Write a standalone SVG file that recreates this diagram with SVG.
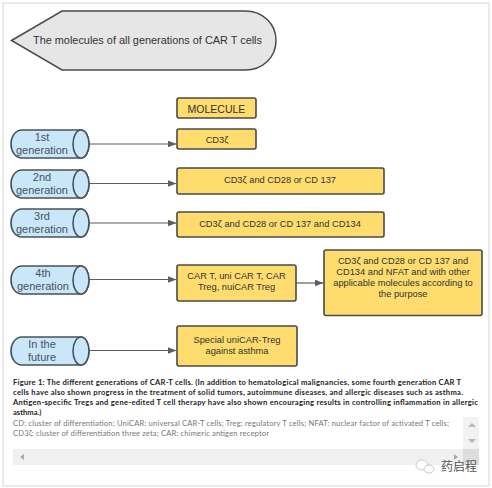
<svg xmlns="http://www.w3.org/2000/svg" width="492" height="488" viewBox="0 0 492 488">
<style>
text{font-family:"Liberation Sans",Arial,sans-serif;fill:#333}
.y{fill:#ffdc6e;stroke:#4a4a48;stroke-width:1.6}
.c{fill:#c9e7f9;stroke:#47525c;stroke-width:1.6}
.t{font-size:9.300px;text-anchor:middle}
.g{font-size:11px;text-anchor:middle;fill:#47525c}
.l{stroke:#5e5e5e;stroke-width:1.2;fill:none;marker-end:url(#a)}
.b{font-family:Lato,"Liberation Sans",sans-serif;font-size:7.600px;font-weight:700;fill:#222}
.n{font-family:Lato,"Liberation Sans",sans-serif;font-size:7.600px;fill:#777}
</style>
<defs>
<marker id="a" markerUnits="userSpaceOnUse" markerWidth="9" markerHeight="7" refX="8.500" refY="3.500" orient="auto"><path d="M0 0L9 3.500L0 7Z" fill="#5e5e5e"/></marker>
<symbol id="cyl" viewBox="0 0 80 30" width="80" height="30"><path class="c" d="M12 1H71C75 1 79 7 79 15S75 29 71 29H12C5 29 1 22 1 15S5 1 12 1Z"/><ellipse class="c" cx="71" cy="15" rx="8" ry="14"/></symbol>
</defs>
<rect width="492" height="488" fill="#fff"/>
<rect x="3" y="3" width="486" height="483" fill="#fff" stroke="#e4e4e4" stroke-width="1.500"/>
<g id="connectors">
<path class="l" d="M89 144H176"/>
<path class="l" d="M89 183.500H176"/>
<path class="l" d="M89 223H176"/>
<path class="l" d="M89 279.500H176"/>
<path class="l" d="M89 350.500H176"/>
<path class="l" d="M296 283H323"/>
</g>
<g id="title"><path d="M11.500 40.500L62 11H245C263 11 276 24 276 40.500S263 70 245 70H62Z" fill="#e6e6e6" stroke="#4a4a4a" stroke-width="1.500"/><text x="147.500" y="43.500" font-size="11" text-anchor="middle" textLength="229" lengthAdjust="spacingAndGlyphs">The molecules of all generations of CAR T cells</text></g>
<g id="molecule"><rect class="y" x="177" y="98" width="79" height="20" rx="2"/><text x="216.500" y="112.500" font-size="10.500" text-anchor="middle">MOLECULE</text></g>
<g id="gen1"><use href="#cyl" x="10" y="129"/><text class="g" x="42" y="141">1st</text><text class="g" x="42" y="154">generation</text></g>
<g id="gen2"><use href="#cyl" x="10" y="169"/><text class="g" x="42" y="181">2nd</text><text class="g" x="42" y="194">generation</text></g>
<g id="gen3"><use href="#cyl" x="10" y="208"/><text class="g" x="42" y="220">3rd</text><text class="g" x="42" y="233">generation</text></g>
<g id="gen4"><use href="#cyl" x="10" y="265"/><text class="g" x="43" y="277">4th</text><text class="g" x="43" y="290">generation</text></g>
<g id="future"><use href="#cyl" x="10" y="336"/><text class="g" x="42" y="348">In the</text><text class="g" x="42" y="361">future</text></g>
<g id="m1"><rect class="y" x="177" y="129" width="79" height="20" rx="2"/><text class="t" x="217" y="143">CD3ζ</text></g>
<g id="m2"><rect class="y" x="177" y="168" width="207" height="26" rx="2"/><text class="t" x="280" y="183">CD3ζ and CD28 or CD 137</text></g>
<g id="m3"><rect class="y" x="177" y="212" width="207" height="25" rx="2"/><text class="t" x="280" y="227">CD3ζ and CD28 or CD 137 and CD134</text></g>
<g id="m4"><rect class="y" x="177" y="265" width="119" height="36" rx="2"/><text class="t" x="236.500" y="279">CAR T, uni CAR T, CAR</text><text class="t" x="236.500" y="290">Treg, nuiCAR Treg</text></g>
<g id="m4b"><rect class="y" x="324" y="250" width="158" height="65.500" rx="2"/><text class="t" x="403" y="264">CD3ζ and CD28 or CD 137 and</text><text class="t" x="403" y="275">CD134 and NFAT and with other</text><text class="t" x="403" y="286">applicable molecules according to</text><text class="t" x="403" y="297">the purpose</text></g>
<g id="m5"><rect class="y" x="177" y="326" width="120" height="40" rx="2"/><text class="t" x="237" y="343">Special uniCAR-Treg</text><text class="t" x="237" y="354">against asthma</text></g>
<text class="b" x="13" y="385" textLength="448">Figure 1: The different generations of CAR-T cells. (In addition to hematological malignancies, some fourth generation CAR T</text>
<text class="b" x="13" y="395" textLength="450">cells have also shown progress in the treatment of solid tumors, autoimmune diseases, and allergic diseases such as asthma.</text>
<text class="b" x="13" y="405" textLength="465">Antigen-specific Tregs and gene-edited T cell therapy have also shown encouraging results in controlling inflammation in allergic</text>
<text class="b" x="13" y="415">asthma.)</text>
<text class="n" x="13" y="426" textLength="436">CD: cluster of differentiation; UniCAR: universal CAR-T cells; Treg: regulatory T cells; NFAT: nuclear factor of activated T cells;</text>
<text class="n" x="13" y="436" textLength="256">CD3ζ: cluster of differentiation three zeta; CAR: chimeric antigen receptor</text>
<rect x="13" y="449" width="450" height="16" fill="#f0f0f0"/>
<rect x="463" y="417" width="16" height="48" fill="#f2f2f2"/>
<rect x="463" y="449" width="16" height="16" fill="#dcdcdc"/>
<path d="M24 454V460L20 457Z" fill="#a8a8a8"/><path d="M454 454V460L458 457Z" fill="#a8a8a8"/>
<path d="M468 427H476L472 423Z" fill="#b8b8b8"/><path d="M468 439H476L472 443Z" fill="#b8b8b8"/>
<g id="watermark"><ellipse cx="422" cy="465" rx="6" ry="5" fill="#fff" stroke="#bbb" stroke-width="0.800"/><ellipse cx="429" cy="469" rx="5" ry="4" fill="#fff" stroke="#bbb" stroke-width="0.800"/><text x="441" y="471" font-size="12" style="font-family:'Noto Sans CJK SC',sans-serif;fill:#555">药启程</text></g>
</svg>
